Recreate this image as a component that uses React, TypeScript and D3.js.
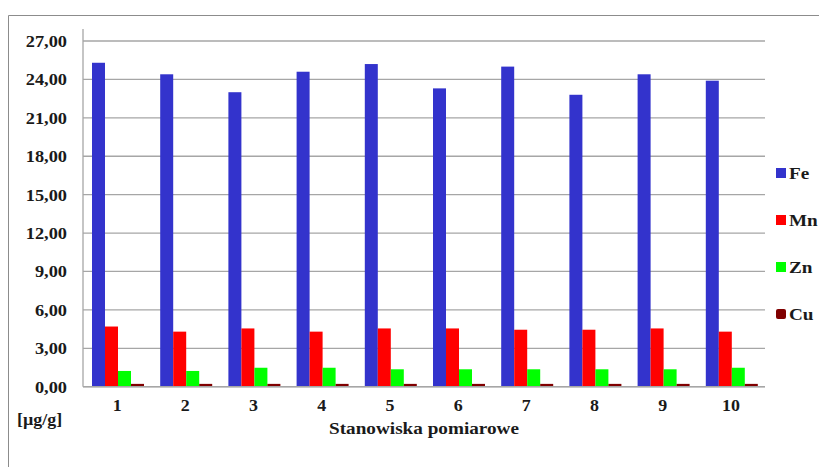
import React from "react";
import * as d3 from "d3";

const categories = ["1", "2", "3", "4", "5", "6", "7", "8", "9", "10"];
const seriesNames = ["Fe", "Mn", "Zn", "Cu"];
const feValues = [25.3, 24.4, 23.0, 24.6, 25.2, 23.3, 25.0, 22.8, 24.4, 23.9];
const mnValues = [4.7, 4.3, 4.55, 4.3, 4.55, 4.55, 4.45, 4.45, 4.55, 4.3];
const znValues = [1.23, 1.23, 1.48, 1.48, 1.36, 1.36, 1.36, 1.36, 1.36, 1.48];
const cuValues = [0.22, 0.22, 0.22, 0.22, 0.22, 0.22, 0.22, 0.22, 0.22, 0.22];
const yTicks = [0, 3, 6, 9, 12, 15, 18, 21, 24, 27];
const colors = ["#3333CC", "#FF0000", "#00FF00", "#800000"];
const yUnit = "[µg/g]";
const xTitle = "Stanowiska pomiarowe";

const W = 819;
const H = 467;
const left = 83;
const right = 765;
const top = 41;
const bottom = 386.7;
const FONT = "Liberation Serif";

function T(props: {
  x: number;
  y: number;
  size: number;
  sx: number;
  anchor?: string;
  children: React.ReactNode;
}) {
  return (
    <text
      transform={`translate(${props.x},${props.y}) scale(${props.sx},1)`}
      textAnchor={props.anchor || "start"}
      fontSize={props.size}
      fill="#1a1a1a"
      style={{ fontFamily: FONT, fontWeight: 700 }}
    >
      {props.children}
    </text>
  );
}

export default function App() {
  const allSeries = [feValues, mnValues, znValues, cuValues];
  const x0 = d3.scaleBand<string>().domain(categories).range([left, right]).padding(0);
  const x1 = d3.scaleBand<string>().domain(seriesNames).range([9, 61]).padding(0);
  const y = d3.scaleLinear().domain([0, 27]).range([bottom, top]);
  const fmt = (v: number) => v.toFixed(2).replace(".", ",");
  const legendY = [173, 220, 267, 314];

  return (
    <svg
      width={W}
      height={H}
      style={{ position: "absolute", left: 0, top: 0, background: "#fff" }}
    >
      <rect x={0} y={0} width={W} height={H} fill="#fff" />
      {/* outer frame */}
      <line x1={8.5} x2={W} y1={15.5} y2={15.5} stroke="#8c8c8c" strokeWidth={1} />
      <line x1={8.5} x2={8.5} y1={15.5} y2={H} stroke="#8c8c8c" strokeWidth={1} />

      {/* gridlines */}
      {yTicks.map((t) => (
        <line
          key={"g" + t}
          x1={left}
          x2={right}
          y1={y(t)}
          y2={y(t)}
          stroke="#a6a6a6"
          strokeWidth={1.3}
        />
      ))}
      {/* y axis */}
      <line x1={left} x2={left} y1={29} y2={bottom} stroke="#a6a6a6" strokeWidth={1.3} />
      {yTicks.map((t) => (
        <T key={"yl" + t} x={67} y={y(t) + 6} size={17} sx={1.08} anchor="end">
          {fmt(t)}
        </T>
      ))}

      {/* bars */}
      {categories.map((c, i) => (
        <g key={"c" + c}>
          {seriesNames.map((s, j) => {
            const v = allSeries[j][i];
            return (
              <rect
                key={s}
                x={(x0(c) as number) + (x1(s) as number)}
                y={y(v)}
                width={x1.bandwidth()}
                height={bottom - y(v)}
                fill={colors[j]}
              />
            );
          })}
        </g>
      ))}
      {/* x axis line */}
      <line x1={left} x2={right} y1={bottom} y2={bottom} stroke="#a6a6a6" strokeWidth={1.5} />

      {/* x labels */}
      {categories.map((c) => (
        <T key={"xl" + c} x={(x0(c) as number) + x0.bandwidth() / 2} y={411} size={16} sx={1.12} anchor="middle">
          {c}
        </T>
      ))}
      <T x={17} y={425} size={16} sx={1.12}>
        {yUnit}
      </T>
      <T x={424} y={434} size={16} sx={1.2} anchor="middle">
        {xTitle}
      </T>

      {/* legend */}
      {seriesNames.map((s, j) => (
        <g key={"lg" + s}>
          <rect x={776} y={legendY[j] - 5} width={10} height={10} fill={colors[j]} rx={j === 3 ? 2 : 0} />
          <T x={789} y={legendY[j] + 6} size={16} sx={1.2}>
            {s}
          </T>
        </g>
      ))}
    </svg>
  );
}
